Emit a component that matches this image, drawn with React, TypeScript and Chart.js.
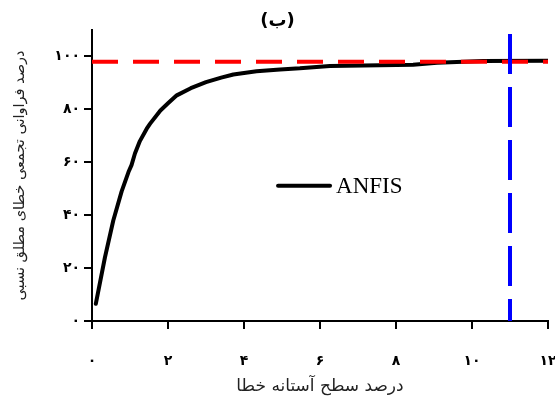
import { useEffect, useRef } from 'react';
import { Chart, registerables } from 'chart.js';

Chart.register(...registerables);

// Data
const errorThreshold = [0.1, 0.34, 0.56, 0.78, 0.96, 1.04, 1.13, 1.26, 1.44, 1.53, 1.8, 2.0, 2.23, 2.6, 3.0, 3.4, 3.72, 4.33, 4.86, 4.95, 5.47, 6.26, 8.45, 9.08, 10.29, 12.0];
const cumulativeFreq = [6.5, 24, 38, 49, 56.3, 58.9, 63.3, 68, 72.7, 74.6, 79.6, 82.3, 85.3, 88, 90.3, 92, 93.2, 94.4, 95.0, 95.1, 95.5, 96.4, 96.9, 97.6, 98.3, 98.4];
const referenceLevel = 98;
const thresholdLine = 11;
const seriesLabel = 'ANFIS';
const chartTitle = '(ب)';
const xAxisTitle = 'درصد سطح آستانه خطا';
const yAxisTitle = 'درصد فراوانی تجمعی خطای مطلق نسبی';
const xTickValues = [0, 2, 4, 6, 8, 10, 12];
const xTickLabels = ['۰', '۲', '۴', '۶', '۸', '۱۰', '۱۲'];
const yTickValues = [0, 20, 40, 60, 80, 100];
const yTickLabels = ['۰', '۲۰', '۴۰', '۶۰', '۸۰', '۱۰۰'];
const xMin = 0;
const xMax = 12;
const yMin = 0;
const yMax = 110;

const insideLegend = {
  id: 'insideLegend',
  afterDraw(chart: any) {
    const { ctx, chartArea: a } = chart;
    const x0 = a.left + a.width * 0.408;
    const y0 = a.top + a.height * 0.535;
    ctx.save();
    ctx.strokeStyle = '#000';
    ctx.lineWidth = 4;
    ctx.lineCap = 'round';
    ctx.beginPath();
    ctx.moveTo(x0, y0);
    ctx.lineTo(x0 + 52, y0);
    ctx.stroke();
    ctx.fillStyle = '#000';
    ctx.font = '23px "Liberation Serif"';
    ctx.textAlign = 'left';
    ctx.textBaseline = 'middle';
    ctx.fillText(seriesLabel, x0 + 58, y0 + 1);
    ctx.restore();
  },
};

export default function App() {
  const ref = useRef<HTMLCanvasElement | null>(null);

  useEffect(() => {
    if (!ref.current) return;
    const curve = errorThreshold.map((x, i) => ({ x, y: cumulativeFreq[i] }));
    const chart = new Chart(ref.current, {
      type: 'line',
      data: {
        datasets: [
          {
            label: 'threshold',
            data: [
              { x: thresholdLine, y: yMax },
              { x: thresholdLine, y: yMin },
            ],
            borderColor: '#0000ff',
            borderWidth: 4,
            borderDash: [40, 13],
            borderDashOffset: 49,
            pointRadius: 0,
            order: 1,
          },
          {
            label: 'reference',
            data: [
              { x: xMin, y: referenceLevel },
              { x: xMax, y: referenceLevel },
            ],
            borderColor: '#ff0000',
            borderWidth: 4,
            borderDash: [26, 15],
            pointRadius: 0,
            order: 2,
          },
          {
            label: seriesLabel,
            data: curve,
            borderColor: '#000',
            borderWidth: 4,
            tension: 0,
            pointRadius: 0,
            borderJoinStyle: 'round',
            borderCapStyle: 'round',
            order: 3,
          },
        ],
      },
      options: {
        animation: false,
        responsive: true,
        maintainAspectRatio: false,
        layout: { padding: { left: 0, right: 0, top: 0, bottom: 0 } },
        plugins: {
          legend: { display: false },
          tooltip: { enabled: false },
          title: {
            display: true,
            text: chartTitle,
            color: '#000',
            font: { family: 'DejaVu Sans', size: 18, weight: 'bold', lineHeight: 1 },
            padding: { top: 12, bottom: 0 },
          },
        },
        scales: {
          x: {
            type: 'linear',
            min: xMin,
            max: xMax,
            afterBuildTicks: (s: any) => {
              s.ticks = xTickValues.map((v) => ({ value: v }));
            },
            afterFit: (s: any) => {
              s.height = 77;
              s.paddingLeft = 0;
              s.paddingRight = 7;
            },
            ticks: {
              color: '#000',
              padding: 24,
              maxRotation: 0,
              font: { family: 'DejaVu Sans', size: 14, weight: 'bold' },
              callback: (v: any) => {
                const i = xTickValues.indexOf(Number(v));
                return i >= 0 ? xTickLabels[i] : '';
              },
            },
            grid: { drawOnChartArea: false, drawTicks: true, tickLength: 8, color: '#000', lineWidth: 2 },
            border: { display: true, color: '#000', width: 2 },
            title: {
              display: true,
              text: xAxisTitle,
              color: '#222',
              font: { family: 'DejaVu Sans', size: 17 },
              padding: { top: 0, bottom: 1 },
            },
          },
          y: {
            type: 'linear',
            min: yMin,
            max: yMax,
            afterBuildTicks: (s: any) => {
              s.ticks = yTickValues.map((v) => ({ value: v }));
            },
            afterFit: (s: any) => {
              s.width = 92;
            },
            ticks: {
              color: '#000',
              padding: 4,
              font: { family: 'DejaVu Sans', size: 14, weight: 'bold' },
              callback: (v: any) => {
                const i = yTickValues.indexOf(Number(v));
                return i >= 0 ? yTickLabels[i] : '';
              },
            },
            grid: { drawOnChartArea: false, drawTicks: true, tickLength: 8, color: '#000', lineWidth: 2 },
            border: { display: true, color: '#000', width: 2 },
            title: {
              display: true,
              text: yAxisTitle,
              color: '#222',
              font: { family: 'DejaVu Sans', size: 14.5 },
              padding: { top: 12, bottom: 0 },
            },
          },
        },
      },
      plugins: [insideLegend],
    });
    return () => chart.destroy();
  }, []);

  return (
    <div style={{ position: 'fixed', left: 0, top: 0, width: 555, height: 398, background: '#fff' }}>
      <canvas ref={ref} />
    </div>
  );
}
